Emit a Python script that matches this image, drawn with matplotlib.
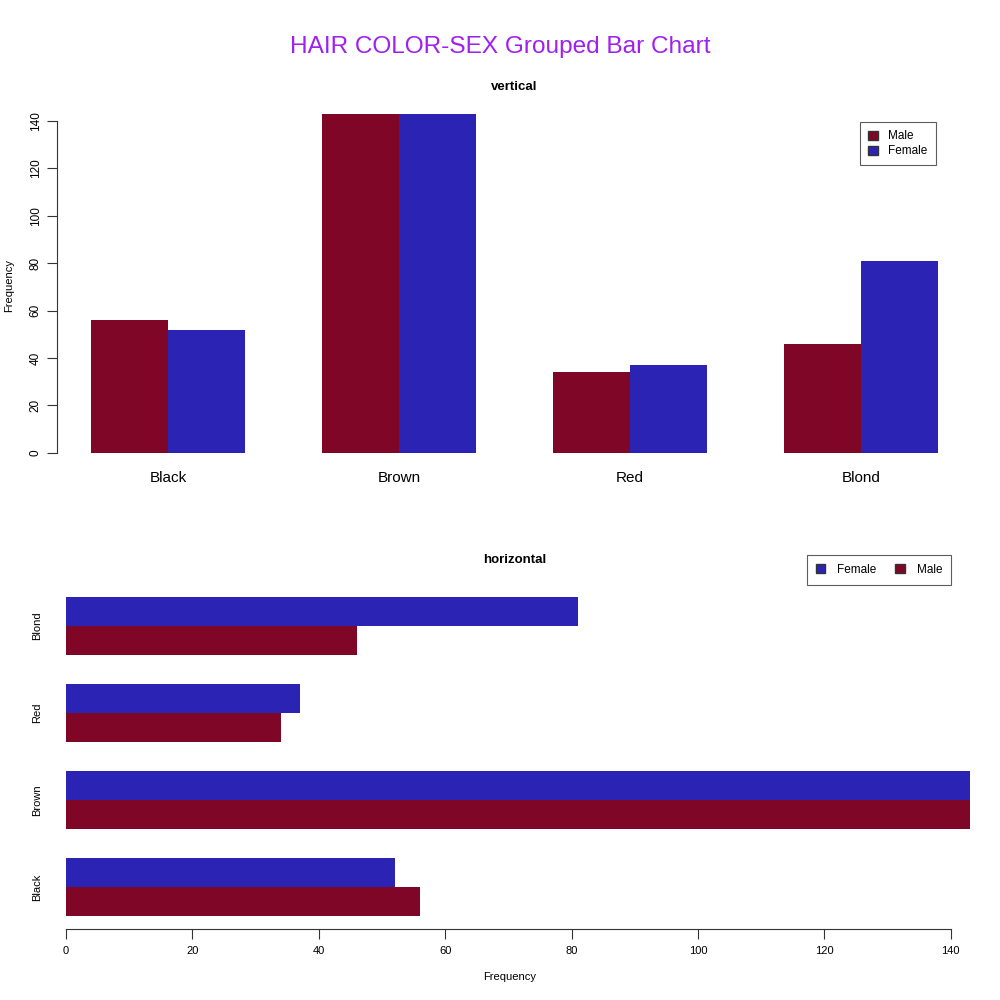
import matplotlib
matplotlib.use("Agg")
import matplotlib.pyplot as plt
from matplotlib.patches import Patch
import numpy as np

plt.rcParams['font.family'] = ['Liberation Sans', 'DejaVu Sans']

# HairEyeColor totals by hair colour and sex
hair = ["Black", "Brown", "Red", "Blond"]
male = [56, 143, 34, 46]
female = [52, 143, 37, 81]

red_col = "#800628"
blue_col = "#2A23B4"
ticks = [0, 20, 40, 60, 80, 100, 120, 140]

fig = plt.figure(figsize=(10, 10), dpi=100)
fig.text(0.5, 0.953, "HAIR COLOR-SEX Grouped Bar Chart", color="#A020F0",
         fontsize=17.6, ha="center", va="center")

# bar positions like R barplot(beside=TRUE): groups of 2, gap of 1
grp = np.arange(len(hair)) * 3
# --- vertical ---
ax1 = fig.add_axes([0.057, 0.53, 0.915, 0.37])
ax1.bar(grp + 1.5, male, width=1, color=red_col)
ax1.bar(grp + 2.5, female, width=1, color=blue_col)
ax1.set_xlim(0.56, 12.44)
ax1.set_ylim(-7.2, 148.8)
for s in ["top", "right", "bottom"]:
    ax1.spines[s].set_visible(False)
ax1.spines["left"].set_bounds(0, 140)
ax1.spines["left"].set_color("#333333")
ax1.set_yticks(ticks)
ax1.set_yticklabels([str(t) for t in ticks], rotation=90, va="center", fontsize=8.5)
ax1.tick_params(axis="y", length=7, width=0.8, color="#333333", pad=4)
ax1.set_xticks(grp + 2)
ax1.set_xticklabels(hair, fontsize=11)
ax1.tick_params(axis="x", length=0, pad=1)
ax1.set_ylabel("Frequency", fontsize=8, labelpad=11)
ax1.set_title("vertical", fontsize=9.5, fontweight="bold", pad=7)
ax1.legend(handles=[Patch(facecolor=red_col, edgecolor="#333333", label="Male"),
                    Patch(facecolor=blue_col, edgecolor="#333333", label="Female")],
           loc="upper right", bbox_to_anchor=(0.936, 0.878), bbox_transform=fig.transFigure,
           fontsize=8.5, frameon=True, fancybox=False, edgecolor="#333333",
           handlelength=0.8, handleheight=0.8, handletextpad=0.9, borderpad=0.7,
           labelspacing=0.25, borderaxespad=0)
ax1.get_legend().get_frame().set_linewidth(0.8)

# --- horizontal ---
ax2 = fig.add_axes([0.02, 0.071, 0.98, 0.345])
ax2.barh(grp + 1.5, male, height=1, color=red_col)
ax2.barh(grp + 2.5, female, height=1, color=blue_col)
ax2.set_ylim(0.56, 12.44)
ax2.set_xlim(-7.28, 147.8)
for s in ["top", "right", "left"]:
    ax2.spines[s].set_visible(False)
ax2.spines["bottom"].set_bounds(0, 140)
ax2.spines["bottom"].set_color("#333333")
ax2.set_xticks(ticks)
ax2.set_xticklabels([str(t) for t in ticks], fontsize=8)
ax2.tick_params(axis="x", length=7, width=0.8, color="#333333", pad=5)
ax2.set_yticks(grp + 2)
ax2.set_yticklabels(hair, rotation=90, va="center", fontsize=8)
ax2.tick_params(axis="y", length=0, pad=-16)
ax2.set_xlabel("Frequency", fontsize=8, labelpad=12)
ax2.set_title("horizontal", fontsize=9.5, fontweight="bold", pad=15, x=0.505)
ax2.legend(handles=[Patch(facecolor=blue_col, edgecolor="#333333", label="Female"),
                    Patch(facecolor=red_col, edgecolor="#333333", label="Male")],
           loc="upper right", bbox_to_anchor=(0.951, 0.445), bbox_transform=fig.transFigure,
           ncol=2, fontsize=8.5, frameon=True, fancybox=False, edgecolor="#333333",
           handlelength=0.8, handleheight=0.8, handletextpad=1.0, borderpad=0.75,
           columnspacing=1.6, borderaxespad=0)
ax2.get_legend().get_frame().set_linewidth(0.8)

fig.savefig("out.png", dpi=100)
